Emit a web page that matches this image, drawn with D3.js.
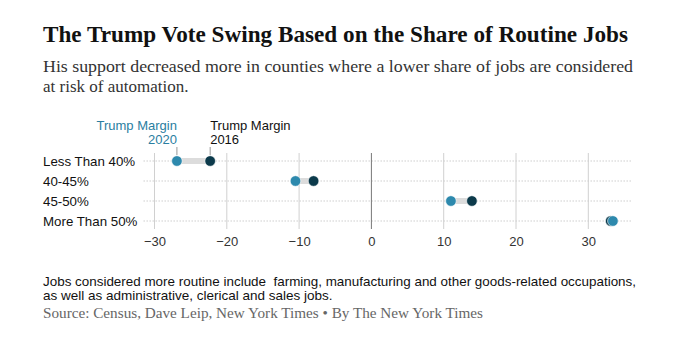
<!DOCTYPE html>
<html>
<head>
<meta charset="utf-8">
<script src="https://cdn.jsdelivr.net/npm/d3@7"></script>
<style>
  body { margin: 0; background: #fff; }
  svg { display: block; }
  text { white-space: pre; }
</style>
</head>
<body>
<svg id="chart" width="682" height="352"></svg>
<script>
// data
const categories = ["Less Than 40%", "40-45%", "45-50%", "More Than 50%"];
const margin2016 = [-22.3, -8.0, 13.9, 33.1];
const margin2020 = [-26.9, -10.5, 11.0, 33.4];
const xTicks = [-30, -20, -10, 0, 10, 20, 30];

const title = "The Trump Vote Swing Based on the Share of Routine Jobs";
const subtitle = ["His support decreased more in counties where a lower share of jobs are considered",
                  "at risk of automation."];
const note = ["Jobs considered more routine include  farming, manufacturing and other goods-related occupations,",
              "as well as administrative, clerical and sales jobs."];
const source = "Source: Census, Dave Leip, New York Times \u2022 By The New York Times";

const color2020 = "#2d89ad";
const color2016 = "#0c3a4b";
const sans = "'Liberation Sans', Arial, sans-serif";
const serif = "'Liberation Serif', 'Times New Roman', serif";

const svg = d3.select("#chart");
const left = 43;

// helper: squeeze a line to a given width if the font runs wider
function fit(sel, w) {
  sel.each(function() {
    const len = this.getComputedTextLength();
    if (Math.abs(len - w) > 2) {
      d3.select(this).attr("textLength", w).attr("lengthAdjust", "spacingAndGlyphs");
    }
  });
}

// header
svg.append("text")
  .attr("x", left).attr("y", 42)
  .style("font-family", serif).style("font-weight", "bold").style("font-size", "24px")
  .attr("fill", "#111")
  .text(title)
  .call(fit, 585);

svg.selectAll(".sub")
  .data(subtitle)
  .enter().append("text")
  .attr("class", "sub")
  .attr("x", left)
  .attr("y", (d, i) => 72 + i * 20)
  .style("font-family", serif).style("font-size", "17px")
  .attr("fill", "#333")
  .text(d => d)
  .each(function(d, i) { if (i === 0) d3.select(this).call(fit, 590); });

// scales
const x = d3.scaleLinear().domain([-30, 30]).range([154.5, 588.3]);
const y = d3.scalePoint().domain(categories).range([161, 221]);

const plotTop = 153, plotBottom = 229;
const gridLeft = x(-31.5), gridRight = x(36);

const g = svg.append("g");

// horizontal dotted row lines
g.selectAll(".row")
  .data(categories)
  .enter().append("line")
  .attr("x1", gridLeft).attr("x2", gridRight)
  .attr("y1", d => y(d)).attr("y2", d => y(d))
  .attr("stroke", "#b5b5b5")
  .attr("stroke-dasharray", "1,2");

// vertical grid
g.selectAll(".vgrid")
  .data(xTicks)
  .enter().append("line")
  .attr("x1", d => x(d)).attr("x2", d => x(d))
  .attr("y1", plotTop).attr("y2", plotBottom)
  .attr("stroke", d => d === 0 ? "#777" : "#d0d0d0")
  .attr("stroke-width", 1);

// x axis labels
const xAxis = d3.axisBottom(x)
  .tickValues(xTicks)
  .tickSize(0)
  .tickPadding(0)
  .tickFormat(d => d < 0 ? "\u2212" + Math.abs(d) : d);

const axisG = svg.append("g")
  .attr("transform", "translate(0," + 234 + ")")
  .call(xAxis);
axisG.select(".domain").remove();
axisG.selectAll("text")
  .attr("dy", "0.96em")
  .style("font-family", sans).style("font-size", "13px")
  .attr("fill", "#333");

// row labels
svg.selectAll(".cat")
  .data(categories)
  .enter().append("text")
  .attr("x", left)
  .attr("y", d => y(d) + 4.5)
  .style("font-family", sans).style("font-size", "13.3px")
  .attr("fill", "#111")
  .text(d => d);

// dumbbells
const rows = categories.map((c, i) => ({cat: c, v16: margin2016[i], v20: margin2020[i]}));

g.selectAll(".bar")
  .data(rows)
  .enter().append("line")
  .attr("x1", d => x(d.v20)).attr("x2", d => x(d.v16))
  .attr("y1", d => y(d.cat)).attr("y2", d => y(d.cat))
  .attr("stroke", "#dcdcdc")
  .attr("stroke-width", 6);

g.selectAll(".d16")
  .data(rows)
  .enter().append("circle")
  .attr("cx", d => x(d.v16)).attr("cy", d => y(d.cat))
  .attr("r", 5.3)
  .attr("fill", color2016)
  .attr("stroke", "#fff").attr("stroke-width", 0.6);

g.selectAll(".d20")
  .data(rows)
  .enter().append("circle")
  .attr("cx", d => x(d.v20)).attr("cy", d => y(d.cat))
  .attr("r", 5.3)
  .attr("fill", color2020)
  .attr("stroke", "#fff").attr("stroke-width", 0.6);

// series labels over the first row
const first = rows[0];
const y0 = y(first.cat);

function seriesLabel(xv, anchor, fill, lines) {
  g.append("line")
    .attr("x1", x(xv)).attr("x2", x(xv))
    .attr("y1", y0 - 14).attr("y2", y0 - 6)
    .attr("stroke", "#999");
  g.selectAll(null)
    .data(lines)
    .enter().append("text")
    .attr("x", x(xv))
    .attr("y", (d, i) => 129.5 + i * 14.5)
    .attr("text-anchor", anchor)
    .style("font-family", sans).style("font-size", "13px")
    .attr("fill", fill)
    .text(d => d);
}
seriesLabel(first.v20, "end", "#2a7ea1", ["Trump Margin", "2020"]);
seriesLabel(first.v16, "start", "#111", ["Trump Margin", "2016"]);

// footnote
svg.selectAll(".note")
  .data(note)
  .enter().append("text")
  .attr("x", left)
  .attr("y", (d, i) => 285.5 + i * 14.5)
  .style("font-family", sans).style("font-size", "13.5px")
  .attr("fill", "#111")
  .text(d => d)
  .each(function(d, i) { if (i === 0) d3.select(this).call(fit, 593); });

svg.append("text")
  .attr("x", left).attr("y", 318)
  .style("font-family", serif).style("font-size", "15px")
  .attr("fill", "#666")
  .text(source)
  .call(fit, 440);
</script>
</body>
</html>
